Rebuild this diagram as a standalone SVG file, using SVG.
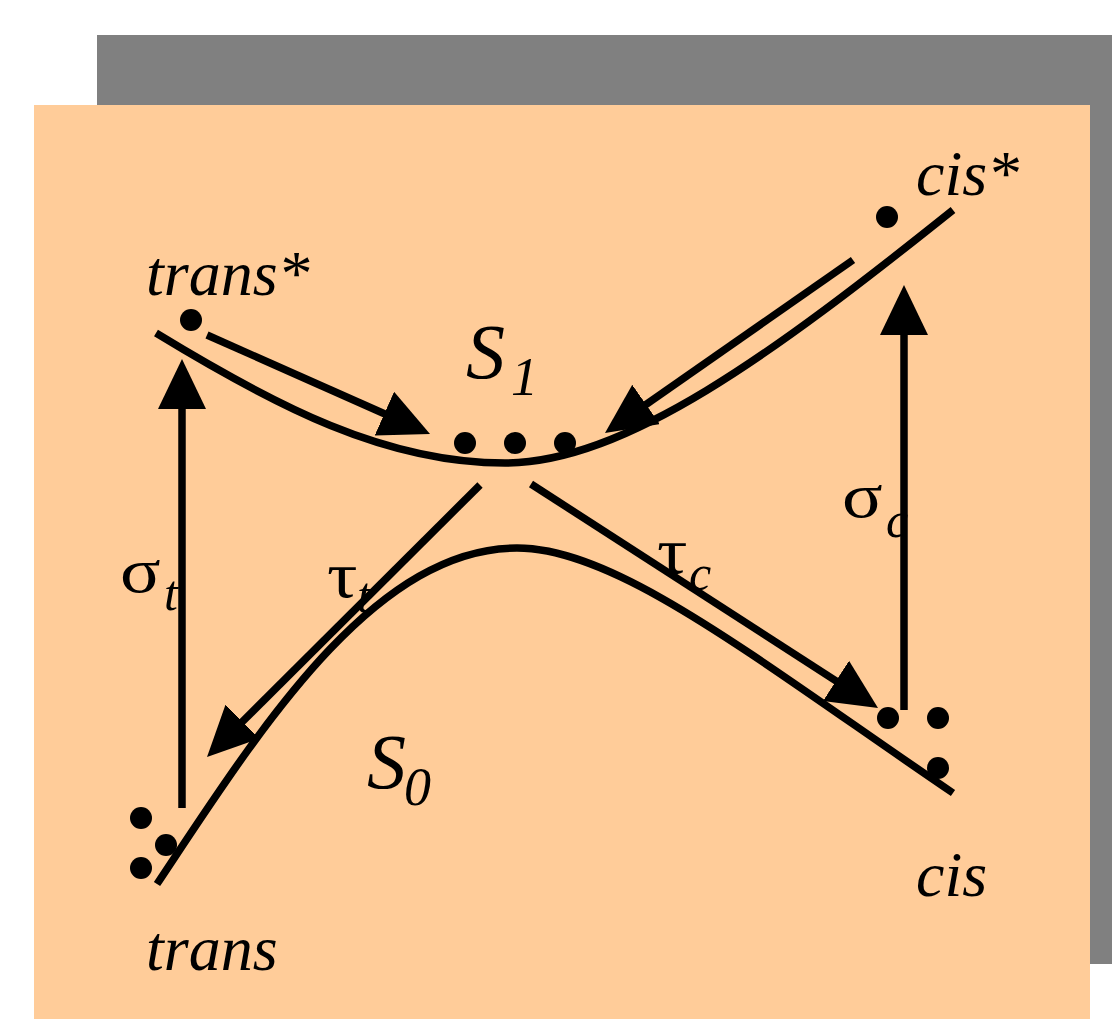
<svg xmlns="http://www.w3.org/2000/svg" width="1112" height="1019" viewBox="0 0 1112 1019">
<style>
.lbl{font-family:"Liberation Serif","Times New Roman",serif;font-style:italic;fill:#000}
.grk{font-family:"Liberation Serif","Times New Roman",serif;font-style:normal;fill:#000}
.ln{stroke:#000;stroke-width:7.5;fill:none}
.dot{fill:#000}
</style>
<defs>
<marker id="ah" viewBox="0 -24 50 48" refX="5" refY="0" markerWidth="50" markerHeight="48" markerUnits="userSpaceOnUse" orient="auto">
<path d="M0,-24 L50,0 L0,24 Z" fill="#000"/>
</marker>
</defs>
<rect x="97" y="35" width="1015" height="929" fill="#808080"/>
<rect x="34" y="105" width="1056" height="914" fill="#FFCC99"/>

<g id="labels">
<text class="lbl" x="146" y="295" font-size="64">trans*</text>
<text class="lbl" x="916" y="195" font-size="64">cis*</text>
<text class="lbl" x="146" y="970" font-size="64">trans</text>
<text class="lbl" x="916" y="896" font-size="64">cis</text>
<text class="lbl" x="466" y="378" font-size="78">S</text>
<text class="lbl" x="511" y="395" font-size="54">1</text>
<text class="lbl" x="367" y="788" font-size="78">S</text>
<text class="lbl" x="404" y="805" font-size="54">0</text>
<text class="grk" font-size="64" transform="translate(120,592) scale(1.18,1)">σ</text>
<text class="lbl" x="164" y="610" font-size="50">t</text>
<text class="grk" font-size="66" transform="translate(327,597) scale(1.15,1)">τ</text>
<text class="lbl" x="357" y="612" font-size="50">t</text>
<text class="grk" font-size="66" transform="translate(657,573) scale(1.15,1)">τ</text>
<text class="lbl" x="689" y="590" font-size="50">c</text>
<text class="grk" font-size="64" transform="translate(842,517) scale(1.18,1)">σ</text>
<text class="lbl" x="886" y="537" font-size="50">c</text>
</g>

<g id="S1-curve">
<path class="ln" d="M156,333 C276,406.2 385,463 505,463 C625,463 773,354 953,210"/>
</g>
<g id="S0-curve">
<path class="ln" d="M157,884 C257,734 372,548 517,548 C617,548 753,657 953,793"/>
</g>

<g id="dots">
<circle class="dot" cx="191" cy="320" r="11"/>
<circle class="dot" cx="465" cy="443" r="11"/>
<circle class="dot" cx="515" cy="443" r="11"/>
<circle class="dot" cx="565" cy="443" r="11"/>
<circle class="dot" cx="887" cy="217" r="11"/>
<circle class="dot" cx="888" cy="718" r="11"/>
<circle class="dot" cx="938" cy="718" r="11"/>
<circle class="dot" cx="938" cy="768" r="11"/>
<circle class="dot" cx="141" cy="818" r="11"/>
<circle class="dot" cx="166" cy="845" r="11"/>
<circle class="dot" cx="141" cy="868" r="11"/>
</g>

<g id="connectors">
<line class="ln" x1="207" y1="335" x2="388.9" y2="415.7" marker-end="url(#ah)"/>
<line class="ln" x1="853" y1="260" x2="641.9" y2="407.3" marker-end="url(#ah)"/>
<line class="ln" x1="182" y1="808" x2="182" y2="404" marker-end="url(#ah)"/>
<line class="ln" x1="904" y1="710" x2="904" y2="330" marker-end="url(#ah)"/>
<line class="ln" x1="480" y1="485" x2="238.9" y2="725.2" marker-end="url(#ah)"/>
<line class="ln" x1="531" y1="484" x2="840.2" y2="683.6" marker-end="url(#ah)"/>
</g>
</svg>
